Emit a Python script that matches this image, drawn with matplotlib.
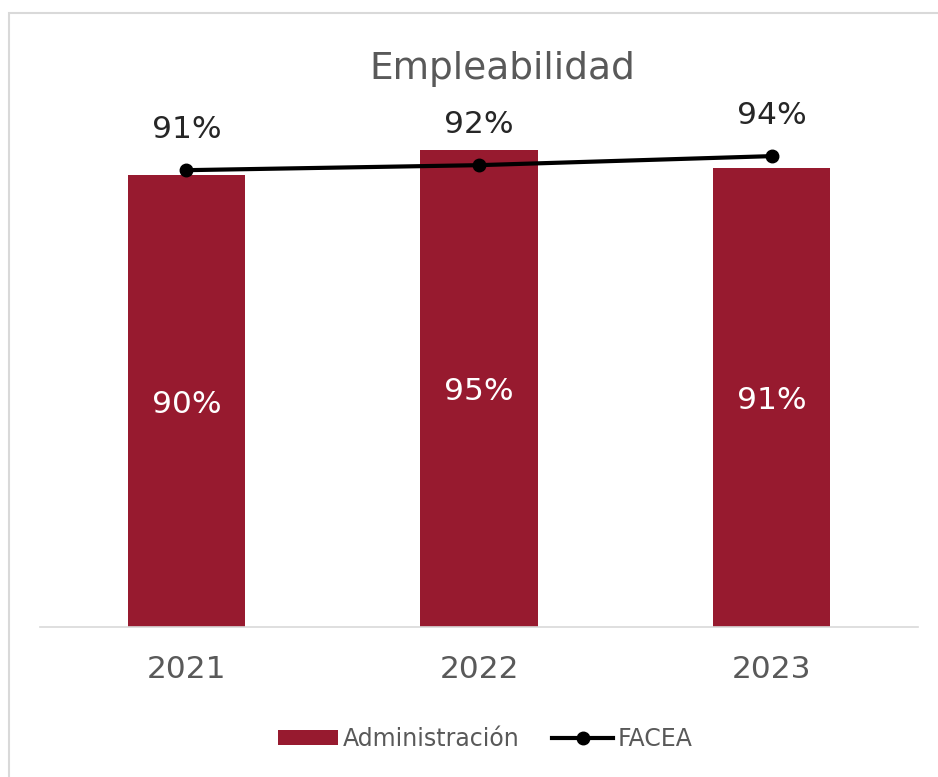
import numpy as np
import matplotlib
matplotlib.use("Agg")
import matplotlib.pyplot as plt
from matplotlib.patches import Rectangle

# data
years = ["2021", "2022", "2023"]
admin = [0.90, 0.95, 0.914]
facea = [0.91, 0.92, 0.938]

plt.rcParams['font.family'] = ['DejaVu Sans']

bar_color = '#971A2F'
gray = '#595959'

fig = plt.figure(figsize=(9.38, 7.77), dpi=100)
ax = fig.add_axes([40/938, 150/777, 878/938, 502/777])

# chart border (only top/left visible in the reference)
fig.patches.append(Rectangle((9/938, -0.1), 1.2, (777-13)/777 + 0.1, transform=fig.transFigure,
                             fill=False, edgecolor='#D9D9D9', linewidth=1.5))

x = np.arange(len(years))
bars = ax.bar(x, admin, width=0.40, color=bar_color, label='Administración', zorder=2)
line, = ax.plot(x, facea, color='black', linewidth=3, marker='o', markersize=9, label='FACEA', zorder=3)

for xi, v in zip(x, admin):
    ax.annotate("{:.0f}%".format(v*100), (xi, v/2), xytext=(0, -8.3), textcoords='offset points',
                ha='center', va='baseline', color='white', fontsize=22.5)
for xi, v in zip(x, facea):
    ax.annotate("{:.0f}%".format(v*100), (xi, v), xytext=(0, 23), textcoords='offset points',
                ha='center', va='baseline', color='#262626', fontsize=22.5)

ax.set_xlim(-0.5, 2.5)
ax.set_ylim(0, 1.0)
ax.set_xticks(x)
ax.set_xticklabels(years, fontsize=22.5, color=gray)
ax.tick_params(axis='x', length=0, pad=20)
ax.set_yticks([])
for s in ['top', 'right', 'left']:
    ax.spines[s].set_visible(False)
ax.spines['bottom'].set_color('#D9D9D9')
ax.spines['bottom'].set_linewidth(1.2)
ax.patch.set_visible(False)

fig.text(502/938, 1 - 69/777, "Empleabilidad", ha='center', va='center', fontsize=27, color=gray)

leg = fig.legend(handles=[bars, line], labels=['Administración', 'FACEA'],
                 loc='center', bbox_to_anchor=(485/938, 1 - 739/777), ncol=2, frameon=False,
                 fontsize=17, handlelength=2.55, handleheight=0.6, columnspacing=1.4, handletextpad=0.2)
for t in leg.get_texts():
    t.set_color(gray)

fig.savefig("out.png", dpi=100)
